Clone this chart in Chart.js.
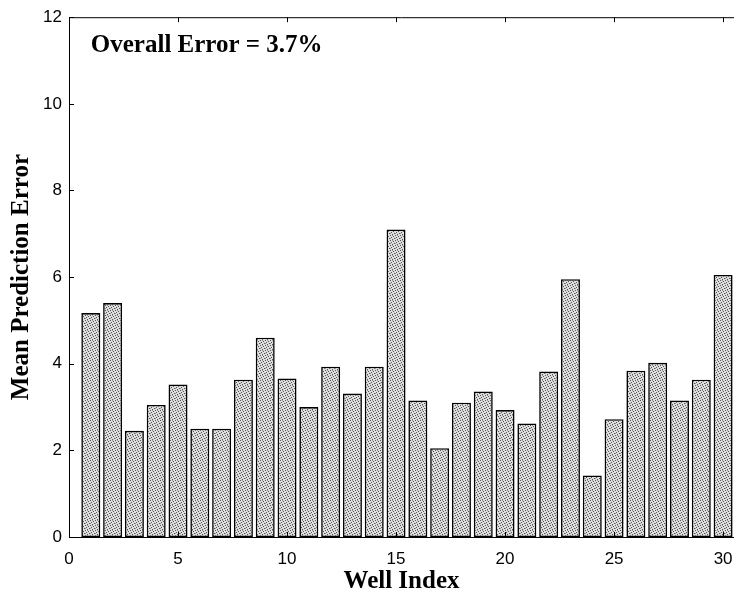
<!DOCTYPE html>
<html>
<head>
<meta charset="utf-8">
<script src="https://cdn.jsdelivr.net/npm/chart.js@4.4.1/dist/chart.umd.min.js"></script>
<style>
  html, body { margin: 0; padding: 0; background: #fff; }
  #wrap { width: 734px; height: 597px; position: relative; }
</style>
</head>
<body>
<div id="wrap"><canvas id="errChart"></canvas></div>
<script>
// data
const wellIndex = [1, 2, 3, 4, 5, 6, 7, 8, 9, 10, 11, 12, 13, 14, 15,
                   16, 17, 18, 19, 20, 21, 22, 23, 24, 25, 26, 27, 28, 29, 30];
const meanError = [5.17, 5.40, 2.45, 3.05, 3.52, 2.50, 2.50, 3.63, 4.60, 3.66,
                   3.00, 3.93, 3.31, 3.93, 7.10, 3.15, 2.05, 3.10, 3.36, 2.93,
                   2.62, 3.82, 5.95, 1.42, 2.72, 3.84, 4.02, 3.15, 3.63, 6.05];
const xTicks = [0, 5, 10, 15, 20, 25, 30];
const yTicks = [0, 2, 4, 6, 8, 10, 12];
const overallText = 'Overall Error = 3.7%';

const serif = "'Liberation Serif', 'Times New Roman', serif";
Chart.defaults.color = '#000';
Chart.defaults.font.family = "'Liberation Sans', Arial, sans-serif";
Chart.defaults.font.size = 17;

// small stipple tile so the bars look like the scanned grey fill
function stipple() {
    const c = document.createElement('canvas');
    c.width = 5; c.height = 5;
    const g = c.getContext('2d');
    g.fillStyle = '#dedede';
    g.fillRect(0, 0, 5, 5);
    g.fillStyle = '#555';
    [[0, 0], [3, 1], [1, 2], [4, 3], [2, 4]].forEach(p => g.fillRect(p[0], p[1], 1, 1));
    g.fillStyle = '#999';
    [[2, 0], [0, 3]].forEach(p => g.fillRect(p[0], p[1], 1, 1));
    return g.createPattern(c, 'repeat');
}

// matlab-ish frame: inward ticks + top border line + the note
const frame = {
    id: 'frame',
    afterDraw(chart) {
        const { ctx, chartArea: a, scales: { x, y } } = chart;
        ctx.save();
        ctx.strokeStyle = '#000';
        ctx.lineWidth = 1;
        ctx.beginPath();
        ctx.moveTo(a.left, a.top + 0.5);
        ctx.lineTo(a.right, a.top + 0.5);
        yTicks.forEach(v => {
            const py = Math.round(y.getPixelForValue(v)) + 0.5;
            ctx.moveTo(a.left, py);
            ctx.lineTo(a.left + 5, py);
        });
        xTicks.forEach(v => {
            const px = Math.round(x.getPixelForValue(v)) + 0.5;
            ctx.moveTo(px, a.bottom);
            ctx.lineTo(px, a.bottom - 5);
            ctx.moveTo(px, a.top);
            ctx.lineTo(px, a.top + 5);
        });
        ctx.stroke();

        ctx.fillStyle = '#000';
        ctx.font = 'bold 25px ' + serif;
        ctx.textBaseline = 'alphabetic';
        ctx.textAlign = 'left';
        ctx.fillText(overallText, x.getPixelForValue(1), y.getPixelForValue(11.2));
        ctx.restore();
    }
};

new Chart(document.getElementById('errChart'), {
    type: 'bar',
    data: {
        datasets: [{
            data: wellIndex.map((w, i) => ({ x: w, y: meanError[i] })),
            backgroundColor: stipple(),
            borderColor: '#000',
            borderWidth: 1.6,
            borderSkipped: false,
            barPercentage: 0.87,
            categoryPercentage: 1
        }]
    },
    options: {
        responsive: true,
        maintainAspectRatio: false,
        animation: false,
        layout: { padding: { top: 14, right: 0, left: 0, bottom: 0 } },
        plugins: { legend: { display: false }, tooltip: { enabled: false } },
        scales: {
            x: {
                type: 'linear',
                min: 0,
                max: 30.5,
                offset: false,
                grid: { display: false, drawTicks: false, offset: false },
                border: { display: true, color: '#000', width: 1 },
                afterBuildTicks: s => { s.ticks = xTicks.map(v => ({ value: v })); },
                afterFit: s => { s.height = 60; s.paddingRight = 0; },
                ticks: { padding: 12, maxRotation: 0, autoSkip: false },
                title: {
                    display: true,
                    text: 'Well Index',
                    font: { family: serif, size: 25, weight: 'bold' },
                    padding: { top: 0, bottom: 0 }
                }
            },
            y: {
                min: 0,
                max: 12,
                grid: { display: false, drawTicks: false },
                border: { display: true, color: '#000', width: 1 },
                afterBuildTicks: s => { s.ticks = yTicks.map(v => ({ value: v })); },
                afterFit: s => { s.width = 69; },
                ticks: { padding: 7 },
                title: {
                    display: true,
                    text: 'Mean Prediction Error',
                    font: { family: serif, size: 25, weight: 'bold' },
                    padding: { top: 7, bottom: 0 }
                }
            }
        }
    },
    plugins: [frame]
});
</script>
</body>
</html>
